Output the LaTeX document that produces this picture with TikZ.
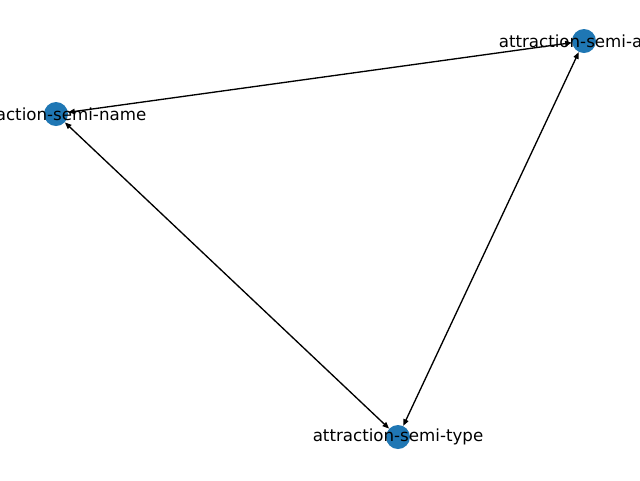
\documentclass[tikz,border=0pt]{standalone}
\usepackage{fontspec}
\setmainfont{DejaVu Sans}
\usetikzlibrary{arrows.meta}
\definecolor{nodeblue}{HTML}{1F77B4}
\tikzset{
  vtx/.style={circle, fill=nodeblue, minimum size=18pt, inner sep=0pt, draw=none},
  lbl/.style={font=\fontsize{12.5pt}{14pt}\selectfont, inner sep=0pt, text=black},
  link/.style={line width=1pt, {Triangle[length=5pt,width=4pt]}-{Triangle[length=5pt,width=4pt]}}
}
\begin{document}
\begin{tikzpicture}[x=0.75pt, y=-0.75pt]
\useasboundingbox (0,0) rectangle (640,480);
\clip (0,0) rectangle (640,480);
\fill[white] (0,0) rectangle (640,480);
\node[vtx] (n) at (56,114) {};
\node[vtx] (a) at (584,41) {};
\node[vtx] (t) at (398,437) {};
\draw[link] (n) -- (a);
\draw[link] (n) -- (t);
\draw[link] (a) -- (t);
\node[lbl] (ln) at (56,114) {attraction-semi-name};
\node[lbl] (la) at (584,41) {attraction-semi-area};
\node[lbl] (lt) at (398,437) {attraction-semi-type};
\end{tikzpicture}
\end{document}
